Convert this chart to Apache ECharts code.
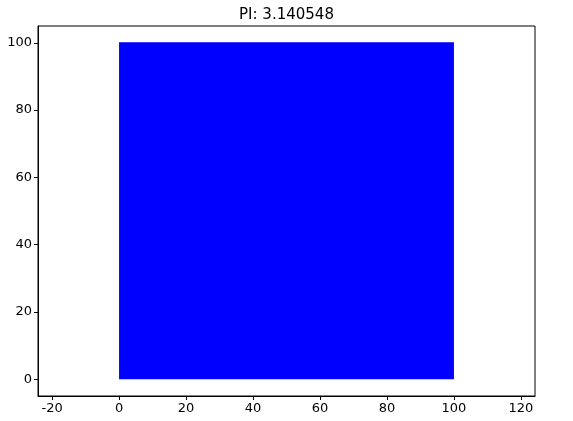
<!DOCTYPE html>
<html>
<head>
<meta charset="utf-8">
<script src="https://cdn.jsdelivr.net/npm/echarts@6/dist/echarts.min.js"></script>
<style>html,body{margin:0;padding:0;background:#fff}#c{width:573px;height:421px}</style>
</head>
<body>
<div id="c"></div>
<script>
// square of sampled points, drawn as its filled outline
var squareX = [0, 100];
var squareY = [100, 100];
var xTicks = [-20, 0, 20, 40, 60, 80, 100, 120];
var yTicks = [0, 20, 40, 60, 80, 100];
var piText = 'PI: 3.140548';

var chart = echarts.init(document.getElementById('c'));
var pts = [];
for (var i = 0; i < squareX.length; i++) pts.push([squareX[i], squareY[i]]);
var axisCommon = {
    axisLine: {onZero: false, lineStyle: {color: '#000', width: 1}},
    axisTick: {show: true, length: 4, inside: false, lineStyle: {color: '#000'}},
    axisLabel: {color: '#000', fontSize: 13, fontFamily: 'DejaVu Sans'},
    splitLine: {show: false}
};
chart.setOption({
    animation: false,
    title: {text: piText, left: 'center', top: 3,
        textStyle: {fontSize: 15, fontWeight: 'normal', color: '#000', fontFamily: 'DejaVu Sans'}},
    grid: {left: 38, right: 38, top: 26, bottom: 25, show: true, borderColor: '#000', borderWidth: 1},
    xAxis: Object.assign({}, axisCommon, {
        type: 'value', min: -24.2, max: 124.2,
        axisTick: Object.assign({}, axisCommon.axisTick, {customValues: xTicks}),
        axisLabel: Object.assign({}, axisCommon.axisLabel, {customValues: xTicks, margin: 6})
    }),
    yAxis: Object.assign({}, axisCommon, {
        type: 'value', min: -5, max: 105,
        axisTick: Object.assign({}, axisCommon.axisTick, {customValues: yTicks}),
        axisLabel: Object.assign({}, axisCommon.axisLabel, {customValues: yTicks, margin: 6})
    }),
    series: [{
        type: 'line', data: pts, symbol: 'none',
        lineStyle: {color: '#0000ff', width: 1},
        areaStyle: {color: '#0000ff', opacity: 1, origin: 0}
    }]
});
</script>
</body>
</html>
